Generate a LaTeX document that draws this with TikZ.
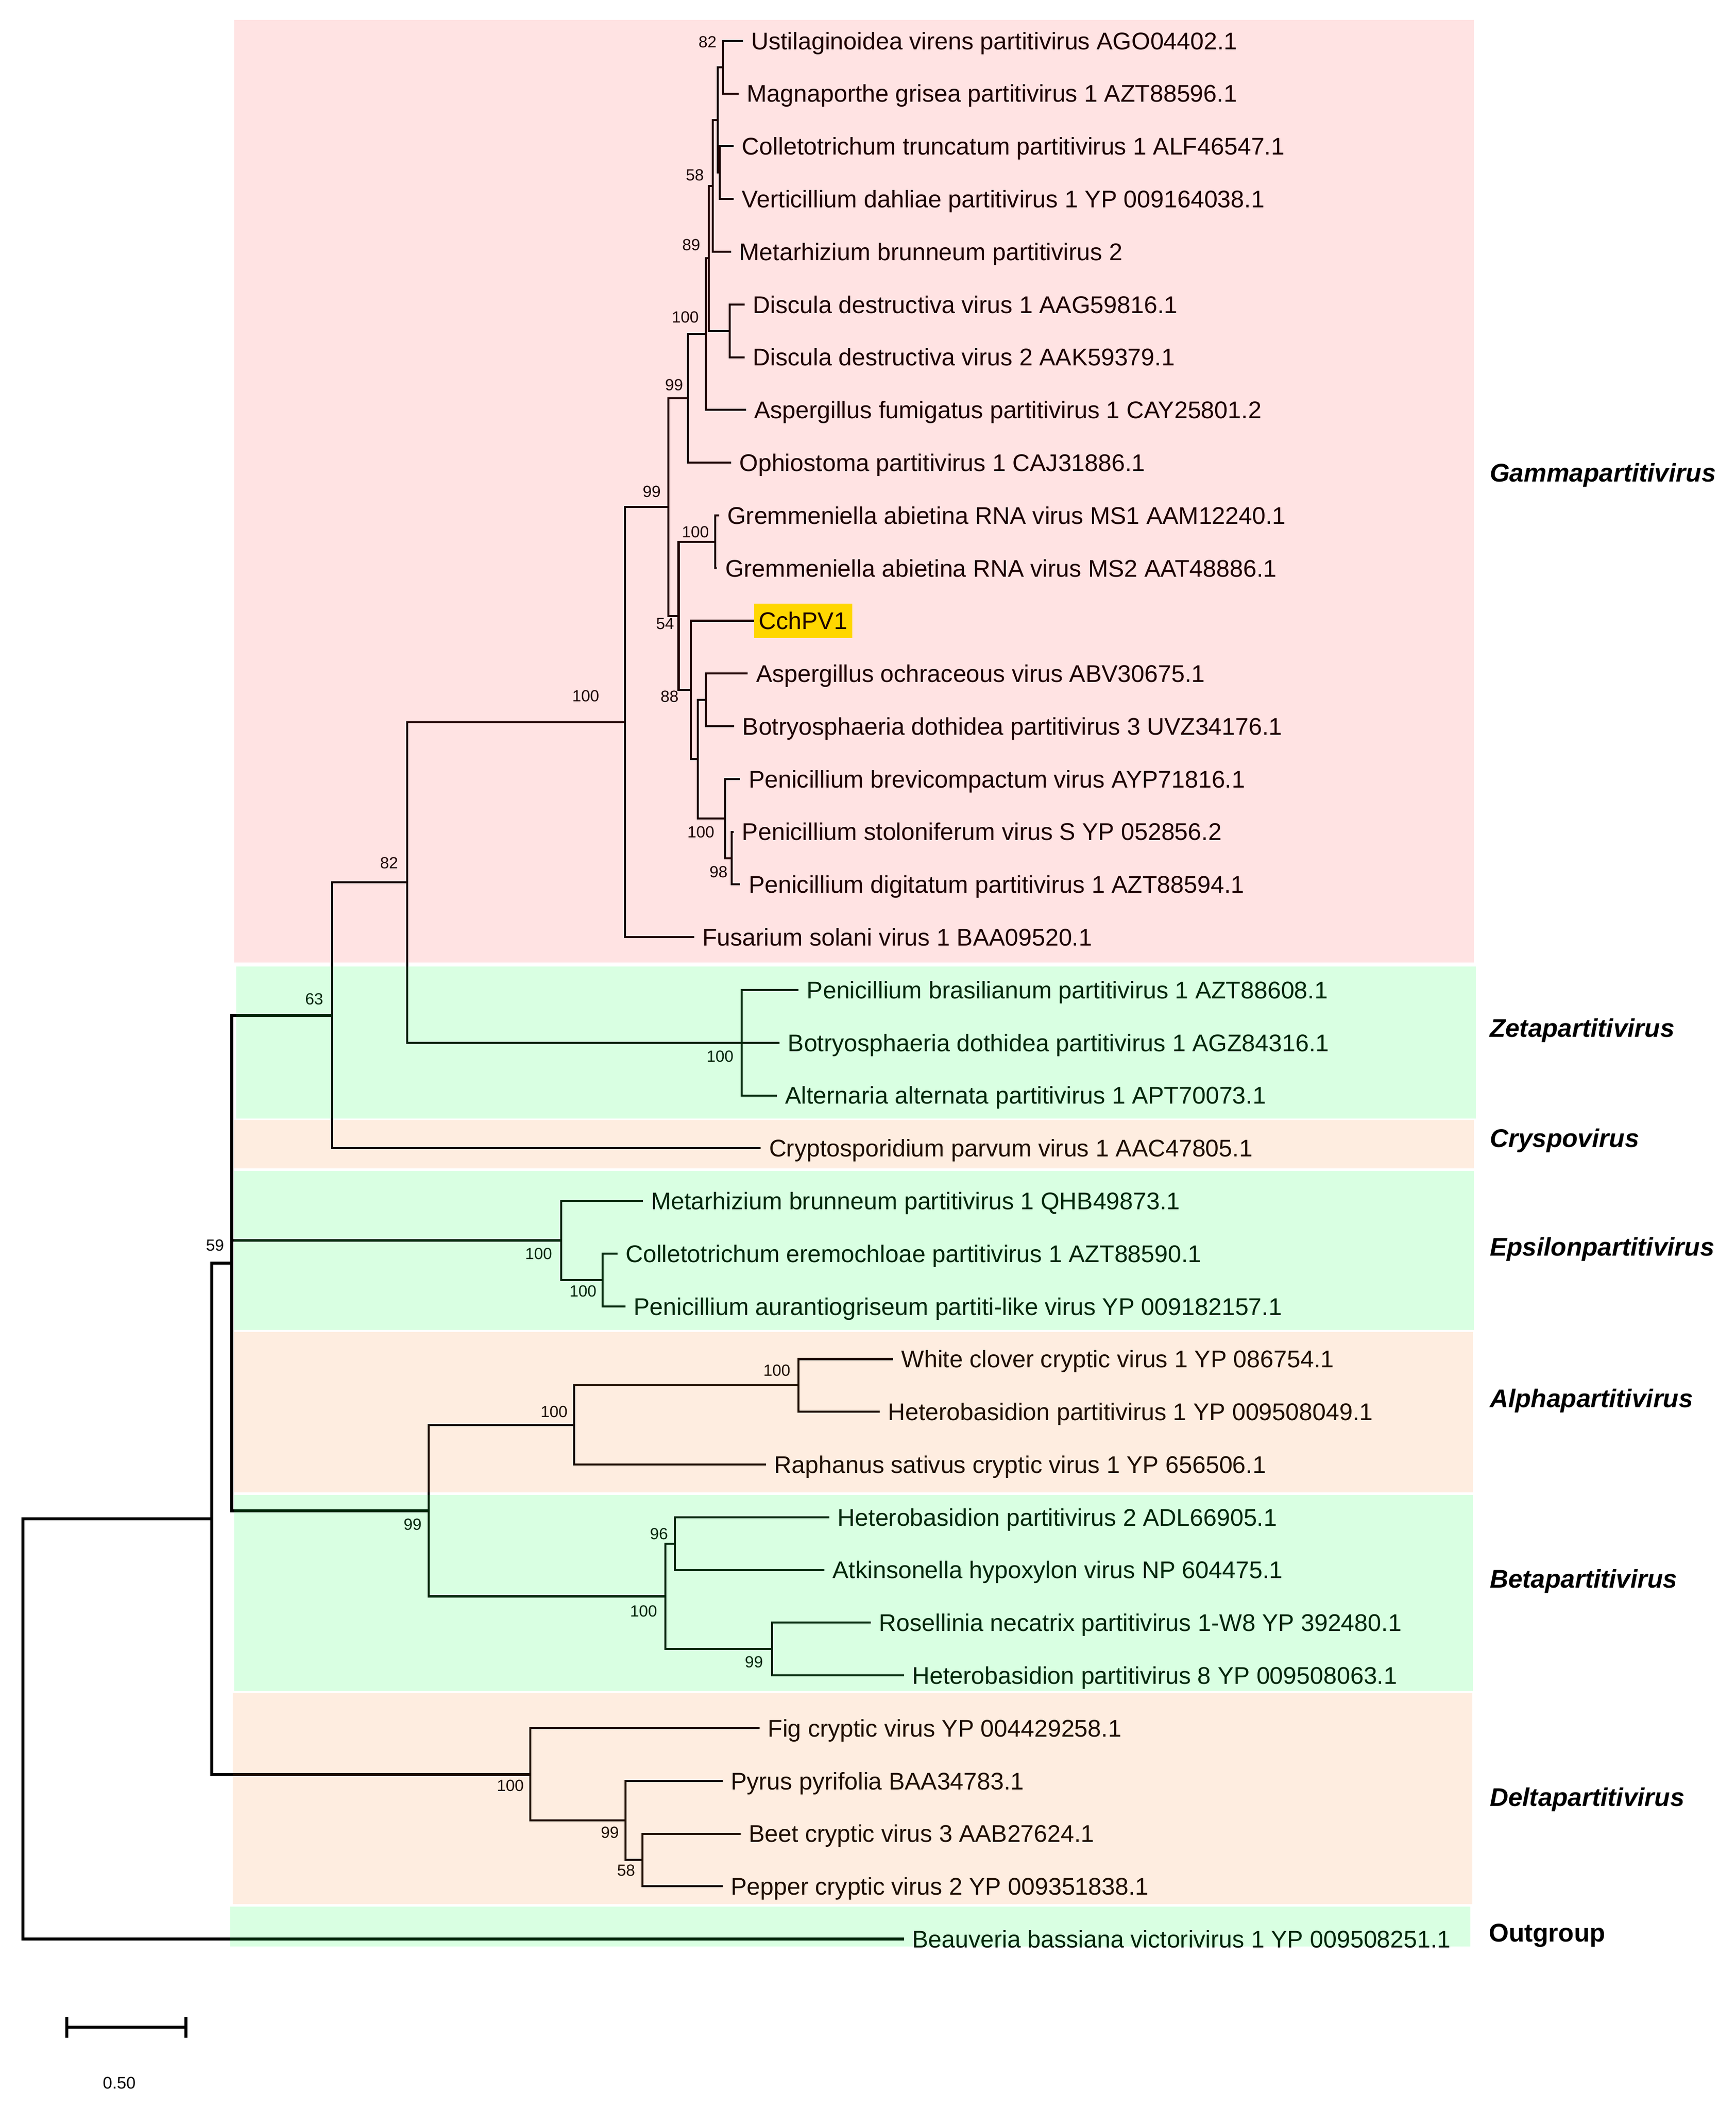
\documentclass[tikz,border=0pt]{standalone}
\usepackage{fontspec}
\setmainfont{Liberation Sans}
\usepackage{tikz}
\definecolor{gamover}{RGB}{255,0,0}
\definecolor{grnover}{RGB}{0,255,62}
\definecolor{pchover}{RGB}{247,113,5}

\begin{document}
\begin{tikzpicture}[x=1pt,y=-1pt,
  br/.style={line width=1.5pt,line join=miter},
  brroot/.style={line width=2.2pt,line join=miter},
  leaf/.style={anchor=west,inner xsep=6pt,inner ysep=0pt,text height=12.8pt,text depth=0pt,font=\fontsize{17.9}{20}\selectfont},
  bs/.style={inner sep=0pt,font=\fontsize{12}{14}\selectfont},
  grp/.style={anchor=west,inner sep=0pt,text height=13.6pt,text depth=0pt,font=\fontsize{19}{22}\selectfont\bfseries\itshape},
  gambox/.style={fill=gamover,fill opacity=0.11},
  grnbox/.style={fill=grnover,fill opacity=0.15},
  pchbox/.style={fill=pchover,fill opacity=0.12}]
\useasboundingbox (0,0) rectangle (1289,1567);
\fill[white] (0,0) rectangle (1289,1567);

% leaves
\node[leaf] (l1) at (551.8,30.3) {Ustilaginoidea virens partitivirus AGO04402.1};
\node[leaf] (l2) at (548.5,69.46) {Magnaporthe grisea partitivirus 1 AZT88596.1};
\node[leaf] (l3) at (545,108.62) {Colletotrichum truncatum partitivirus 1 ALF46547.1};
\node[leaf] (l4) at (545,147.78) {Verticillium dahliae partitivirus 1 YP 009164038.1};
\node[leaf] (l5) at (543,186.94) {Metarhizium brunneum partitivirus 2};
\node[leaf] (l6) at (553,226.1) {Discula destructiva virus 1 AAG59816.1};
\node[leaf] (l7) at (553,265.26) {Discula destructiva virus 2 AAK59379.1};
\node[leaf] (l8) at (554,304.42) {Aspergillus fumigatus partitivirus 1 CAY25801.2};
\node[leaf] (l9) at (543,343.58) {Ophiostoma partitivirus 1 CAJ31886.1};
\node[leaf] (l10) at (534,382.74) {Gremmeniella abietina RNA virus MS1 AAM12240.1};
\node[leaf] (l11) at (532.5,421.9) {Gremmeniella abietina RNA virus MS2 AAT48886.1};
\node[leaf,fill=yellow,inner xsep=3.5pt,inner ysep=6.5pt] (l12) at (560,461.06) {CchPV1};
\node[leaf] (l13) at (555.4,500.22) {Aspergillus ochraceous virus ABV30675.1};
\node[leaf] (l14) at (545.3,539.38) {Botryosphaeria dothidea partitivirus 3 UVZ34176.1};
\node[leaf] (l15) at (549.9,578.54) {Penicillium brevicompactum virus AYP71816.1};
\node[leaf] (l16) at (545,617.7) {Penicillium stoloniferum virus S YP 052856.2};
\node[leaf] (l17) at (549.9,656.86) {Penicillium digitatum partitivirus 1 AZT88594.1};
\node[leaf] (l18) at (515.5,696.02) {Fusarium solani virus 1 BAA09520.1};
\node[leaf] (l19) at (593.1,735.18) {Penicillium brasilianum partitivirus 1 AZT88608.1};
\node[leaf] (l20) at (579,774.34) {Botryosphaeria dothidea partitivirus 1 AGZ84316.1};
\node[leaf] (l21) at (577,813.5) {Alternaria alternata partitivirus 1 APT70073.1};
\node[leaf] (l22) at (565,852.66) {Cryptosporidium parvum virus 1 AAC47805.1};
\node[leaf] (l23) at (477.4,891.82) {Metarhizium brunneum partitivirus 1 QHB49873.1};
\node[leaf] (l24) at (458.5,930.98) {Colletotrichum eremochloae partitivirus 1 AZT88590.1};
\node[leaf] (l25) at (464.5,970.14) {Penicillium aurantiogriseum partiti-like virus YP 009182157.1};
\node[leaf] (l26) at (663.3,1009.3) {White clover cryptic virus 1 YP 086754.1};
\node[leaf] (l27) at (653.3,1048.46) {Heterobasidion partitivirus 1 YP 009508049.1};
\node[leaf] (l28) at (569,1087.62) {Raphanus sativus cryptic virus 1 YP 656506.1};
\node[leaf] (l29) at (616,1126.78) {Heterobasidion partitivirus 2 ADL66905.1};
\node[leaf] (l30) at (612.2,1165.94) {Atkinsonella hypoxylon virus NP 604475.1};
\node[leaf] (l31) at (646.8,1205.1) {Rosellinia necatrix partitivirus 1-W8 YP 392480.1};
\node[leaf] (l32) at (671.4,1244.26) {Heterobasidion partitivirus 8 YP 009508063.1};
\node[leaf] (l33) at (564.1,1283.42) {Fig cryptic virus YP 004429258.1};
\node[leaf] (l34) at (536.6,1322.58) {Pyrus pyrifolia BAA34783.1};
\node[leaf] (l35) at (550,1361.74) {Beet cryptic virus 3 AAB27624.1};
\node[leaf] (l36) at (536.6,1400.9) {Pepper cryptic virus 2 YP 009351838.1};
\node[leaf] (l37) at (671.4,1440.06) {Beauveria bassiana victorivirus 1 YP 009508251.1};

% inner nodes
\coordinate (nA) at (537.3,49.9);
\coordinate (nC) at (534.6,128.2);
\coordinate (nP58) at (533,89.1);
\coordinate (nP89) at (529.5,138);
\coordinate (nDisc) at (541.9,245.7);
\coordinate (nQ) at (526.5,191.8);
\coordinate (nP100) at (524.2,248.1);
\coordinate (nP99a) at (511,295.8);
\coordinate (nGrem) at (531.1,402.3);
\coordinate (nAB) at (524.2,519.8);
\coordinate (nP98) at (543.6,637.3);
\coordinate (nPen) at (538.7,607.9);
\coordinate (nRest) at (518.2,563.9);
\coordinate (nN88) at (513.1,512.5);
\coordinate (nN54) at (504,457.4);
\coordinate (nP99) at (496.5,376.6);
\coordinate (nGam) at (464.3,536.3);
\coordinate (nZeta) at (550.9,774.3);
\coordinate (n82) at (302.5,655.3);
\coordinate (n63) at (246.6,754);
\coordinate (nEpsSub) at (447.7,950.6);
\coordinate (nEps) at (416.7,921.2);
\coordinate (nAl1) at (593.1,1028.9);
\coordinate (nAl2) at (426.3,1058.3);
\coordinate (nB96) at (501.2,1146.4);
\coordinate (nB99) at (573.5,1224.7);
\coordinate (nBeta) at (494.1,1185.5);
\coordinate (n99) at (318.5,1121.9);
\coordinate (nX) at (172,938);
\coordinate (nD58) at (477.1,1381.3);
\coordinate (nD99) at (464.6,1351.9);
\coordinate (nDelta) at (394,1317.7);
\coordinate (nR1) at (157.5,1127.8);
\coordinate (nRoot) at (16.9,1283.9);

% branches
\draw[br] (nA) |- (l1.west) (nA) |- (l2.west);
\draw[br] (nC) |- (l3.west) (nC) |- (l4.west);
\draw[br] (nP58) |- (nA) (nP58) |- (nC);
\draw[br] (nP89) |- (nP58) (nP89) |- (l5.west);
\draw[br] (nDisc) |- (l6.west) (nDisc) |- (l7.west);
\draw[br] (nQ) |- (nP89) (nQ) |- (nDisc);
\draw[br] (nP100) |- (nQ) (nP100) |- (l8.west);
\draw[br] (nP99a) |- (nP100) (nP99a) |- (l9.west);
\draw[br] (nGrem) |- (l10.west) (nGrem) |- (l11.west);
\draw[br] (nAB) |- (l13.west) (nAB) |- (l14.west);
\draw[br] (nP98) |- (l16.west) (nP98) |- (l17.west);
\draw[br] (nPen) |- (l15.west) (nPen) |- (nP98);
\draw[br] (nRest) |- (nAB) (nRest) |- (nPen);
\draw[br] (nN88) |- (l12.west) (nN88) |- (nRest);
\draw[br] (nN54) |- (nGrem) (nN54) |- (nN88);
\draw[br] (nP99) |- (nP99a) (nP99) |- (nN54);
\draw[br] (nGam) |- (nP99) (nGam) |- (l18.west);
\draw[br] (nZeta) |- (l19.west) (nZeta) |- (l20.west) (nZeta) |- (l21.west);
\draw[br] (n82) |- (nGam) (n82) |- (nZeta);
\draw[br] (n63) |- (n82) (n63) |- (l22.west);
\draw[br] (nEpsSub) |- (l24.west) (nEpsSub) |- (l25.west);
\draw[br] (nEps) |- (l23.west) (nEps) |- (nEpsSub);
\draw[br] (nAl1) |- (l26.west) (nAl1) |- (l27.west);
\draw[br] (nAl2) |- (nAl1) (nAl2) |- (l28.west);
\draw[br] (nB96) |- (l29.west) (nB96) |- (l30.west);
\draw[br] (nB99) |- (l31.west) (nB99) |- (l32.west);
\draw[br] (nBeta) |- (nB96) (nBeta) |- (nB99);
\draw[br] (n99) |- (nAl2) (n99) |- (nBeta);
\draw[brroot] (nX) |- (n63) (nX) |- (nEps) (nX) |- (n99);
\draw[br] (nD58) |- (l35.west) (nD58) |- (l36.west);
\draw[br] (nD99) |- (l34.west) (nD99) |- (nD58);
\draw[br] (nDelta) |- (l33.west) (nDelta) |- (nD99);
\draw[brroot] (nR1) |- (nX) (nR1) |- (nDelta);
\draw[brroot] (nRoot) |- (nR1) (nRoot) |- (l37.west);

% bootstrap values
\node[bs] (b1) at (525.5,31.4) {82};
\node[bs] (b2) at (516.1,130.2) {58};
\node[bs] (b3) at (513.4,181.8) {89};
\node[bs] (b4) at (509,235.7) {100};
\node[bs] (b5) at (500.6,286) {99};
\node[bs] (b6) at (484.1,365.2) {99};
\node[bs] (b7) at (516.5,395.2) {100};
\node[bs] (b8) at (494,463.2) {54};
\node[bs] (b9) at (497.3,517.1) {88};
\node[bs] (b10) at (520.5,618) {100};
\node[bs] (b11) at (533.7,647.5) {98};
\node[bs] (b12) at (435,517) {100};
\node[bs] (b13) at (289,641) {82};
\node[bs] (b14) at (233.4,742) {63};
\node[bs] (b15) at (534.8,784.6) {100};
\node[bs] (b16) at (159.7,924.8) {59};
\node[bs] (b17) at (400,931) {100};
\node[bs] (b18) at (433,959) {100};
\node[bs] (b19) at (577,1017.7) {100};
\node[bs] (b20) at (411.5,1048.6) {100};
\node[bs] (b21) at (306.5,1132) {99};
\node[bs] (b22) at (489.4,1139) {96};
\node[bs] (b23) at (478,1196.4) {100};
\node[bs] (b24) at (560,1234.2) {99};
\node[bs] (b25) at (379,1326) {100};
\node[bs] (b26) at (453,1361) {99};
\node[bs] (b27) at (465,1389) {58};

% clade boxes
\fill[gambox] (174,14.7) rectangle (1094.7,715);
\fill[grnbox] (175.5,717.7) rectangle (1096,830.7);
\fill[pchbox] (173.5,831.9) rectangle (1094.5,867.7);
\fill[grnbox] (174,869.6) rectangle (1094.5,987.8);
\fill[pchbox] (173.5,989.2) rectangle (1094,1108.3);
\fill[grnbox] (174,1110) rectangle (1094,1255.5);
\fill[pchbox] (173,1257.1) rectangle (1093.5,1414.2);
\fill[grnbox] (171,1416) rectangle (1092,1445.6);

% clade names
\node[grp] (gGam) at (1106.3,350.8) {Gammapartitivirus};
\node[grp] (gZeta) at (1106.3,763.2) {Zetapartitivirus};
\node[grp] (gCry) at (1106.3,845) {Cryspovirus};
\node[grp] (gEps) at (1106.3,926) {Epsilonpartitivirus};
\node[grp] (gAlp) at (1106.3,1038.5) {Alphapartitivirus};
\node[grp] (gBet) at (1106.3,1172.4) {Betapartitivirus};
\node[grp] (gDel) at (1106.3,1334.6) {Deltapartitivirus};
\node[grp,font=\fontsize{19}{22}\selectfont\bfseries] (gOut) at (1105.6,1435.3) {Outgroup};

% scale bar
\coordinate (sb1) at (49.6,1505.5);
\coordinate (sb2) at (138.2,1505.5);
\draw[brroot] (sb1) -- (sb2);
\draw[brroot] ([yshift=7.8pt]sb1) -- ([yshift=-7.8pt]sb1);
\draw[brroot] ([yshift=7.8pt]sb2) -- ([yshift=-7.8pt]sb2);
\node[bs,font=\fontsize{12.5}{14}\selectfont] (sbl) at (88.6,1547) {0.50};
\end{tikzpicture}
\end{document}
